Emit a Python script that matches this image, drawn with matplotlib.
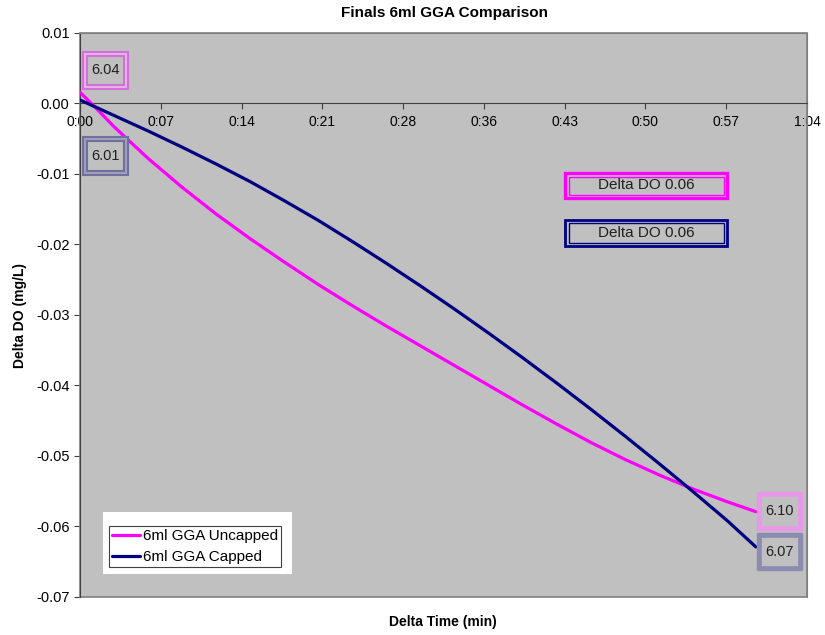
import matplotlib.pyplot as plt
from matplotlib.patches import Rectangle

# Delta time in minutes
time_min = [0, 1.5, 3, 6, 9, 12, 15, 18, 21, 24, 27, 30, 33, 36, 39, 42,
            45, 48, 51, 54, 57, 59.5]

# Delta DO (mg/L)
uncapped = [0.0016, -0.0008, -0.0033, -0.0078, -0.0119, -0.0157, -0.0192, -0.0225,
            -0.0257, -0.0287, -0.0316, -0.0344, -0.0372, -0.0400, -0.0428, -0.0455,
            -0.0481, -0.0505, -0.0527, -0.0547, -0.0565, -0.0579]
capped = [0.0005, -0.0006, -0.0017, -0.0039, -0.0062, -0.0086, -0.0111, -0.0138,
          -0.0166, -0.0196, -0.0227, -0.0259, -0.0292, -0.0326, -0.0361, -0.0397,
          -0.0434, -0.0472, -0.0511, -0.0551, -0.0592, -0.0629]

series_names = ['6ml GGA Uncapped', '6ml GGA Capped']
x_tick_labels = ['0:00', '0:07', '0:14', '0:21', '0:28', '0:36', '0:43', '0:50', '0:57', '1:04']
y_ticks = [0.01, 0.00, -0.01, -0.02, -0.03, -0.04, -0.05, -0.06, -0.07]

start_labels = ['6.04', '6.01']
end_labels = ['6.10', '6.07']
delta_labels = ['Delta DO 0.06', 'Delta DO 0.06']

MAGENTA = '#FF00FF'
NAVY = '#000080'
PLOT_BG = '#C0C0C0'

plt.rcParams['font.family'] = ['Liberation Sans', 'DejaVu Sans']

W, H = 825, 635
L, R, T, B = 80, 807, 33, 597

fig = plt.figure(figsize=(W / 100, H / 100), dpi=100)
fig.patch.set_facecolor('white')
ax = fig.add_axes([L / W, 1 - B / H, (R - L) / W, (B - T) / H])
ax.set_facecolor(PLOT_BG)

ax.plot(time_min, uncapped, color=MAGENTA, lw=2.3, label=series_names[0], zorder=3,
        solid_joinstyle='round', solid_capstyle='round')
ax.plot(time_min, capped, color=NAVY, lw=2.3, label=series_names[1], zorder=3,
        solid_joinstyle='round', solid_capstyle='round')

ax.set_xlim(0, 64)
ax.set_ylim(-0.07, 0.01)

xt = [i * 64 / 9 for i in range(len(x_tick_labels))]
ax.set_xticks(xt)
ax.set_xticklabels(x_tick_labels, fontsize=10.5)
ax.set_yticks(y_ticks)
ax.set_yticklabels([f'{v:.2f}' for v in y_ticks], fontsize=10.5)

# x axis crosses at y = 0 like the Excel original
ax.spines['bottom'].set_position(('data', 0))
ax.spines['bottom'].set_color('#404040')
ax.spines['left'].set_color('#404040')
ax.spines['top'].set_color('#808080')
ax.spines['right'].set_color('#808080')
ax.add_patch(Rectangle((0, 0), 1, 1, transform=ax.transAxes, fill=False,
                       ec='#808080', lw=1.2, zorder=2, clip_on=False))
ax.tick_params(axis='both', direction='out', length=4, color='#404040', labelcolor='black')
ax.tick_params(axis='x', pad=4)

fig.text(0.539, 1 - 13 / H, 'Finals 6ml GGA Comparison', ha='center', va='center',
         fontsize=11, fontweight='bold')
fig.text(20 / W, 1 - 315 / H, 'Delta DO (mg/L)', ha='center', va='center', rotation=90,
         fontsize=10, fontweight='bold')
fig.text(0.537, 1 - 622 / H, 'Delta Time (min)', ha='center', va='center',
         fontsize=10, fontweight='bold')


def ax_xy(px, py):
    return (px - L) / (R - L), (B - py) / (B - T)


def framed(x0, y0, x1, y1, text, edge, band, lw_out, inset, lw_in, size=10.5):
    ax0, ay1 = ax_xy(x0, y0)
    ax1, ay0 = ax_xy(x1, y1)
    ax.add_patch(Rectangle((ax0, ay0), ax1 - ax0, ay1 - ay0, transform=ax.transAxes,
                           fc=band, ec=edge, lw=lw_out, zorder=4, clip_on=False))
    ix0, iy1 = ax_xy(x0 + inset, y0 + inset)
    ix1, iy0 = ax_xy(x1 - inset, y1 - inset)
    ax.add_patch(Rectangle((ix0, iy0), ix1 - ix0, iy1 - iy0, transform=ax.transAxes,
                           fc=PLOT_BG, ec=edge, lw=lw_in, zorder=4, clip_on=False))
    ax.text((ax0 + ax1) / 2, (ay0 + ay1) / 2, text, transform=ax.transAxes,
            ha='center', va='center', fontsize=size, color='#202020', zorder=5)


# value boxes at the start and end of each series
framed(83, 52, 128, 89, start_labels[0], '#D070D8', '#E8B4E8', 1.5, 4, 1.5)
framed(83, 137, 128, 175, start_labels[1], '#70709A', '#A0A0C0', 1.5, 4, 1.5)
framed(757, 492, 802, 530, end_labels[0], '#E898E8', '#E898E8', 1.0, 4, 0.5)
framed(757, 533, 802, 570, end_labels[1], '#8C8CB0', '#8C8CB0', 1.0, 4, 0.5)

# delta DO boxes
framed(565, 173, 727, 198, delta_labels[0], MAGENTA, PLOT_BG, 2.4, 3.5, 1.0, size=11)
framed(565, 220, 727, 246, delta_labels[1], NAVY, PLOT_BG, 2.0, 3.5, 1.0, size=11)

# legend with white surround
lx0, ly1 = ax_xy(103, 512)
lx1, ly0 = ax_xy(292, 574)
ax.add_patch(Rectangle((lx0, ly0), lx1 - lx0, ly1 - ly0, transform=ax.transAxes,
                       fc='white', ec='none', zorder=5))
ax_l, ax_b = ax_xy(109, 567)
leg = ax.legend(loc='lower left', bbox_to_anchor=(ax_l, ax_b), fontsize=11,
                frameon=True, fancybox=False, framealpha=1, edgecolor='#404040',
                handlelength=1.8, handletextpad=0.2, borderpad=0.2, labelspacing=0.45,
                borderaxespad=0)
leg.get_frame().set_linewidth(0.8)
leg.set_zorder(6)

fig.savefig('out.png', dpi=100)
